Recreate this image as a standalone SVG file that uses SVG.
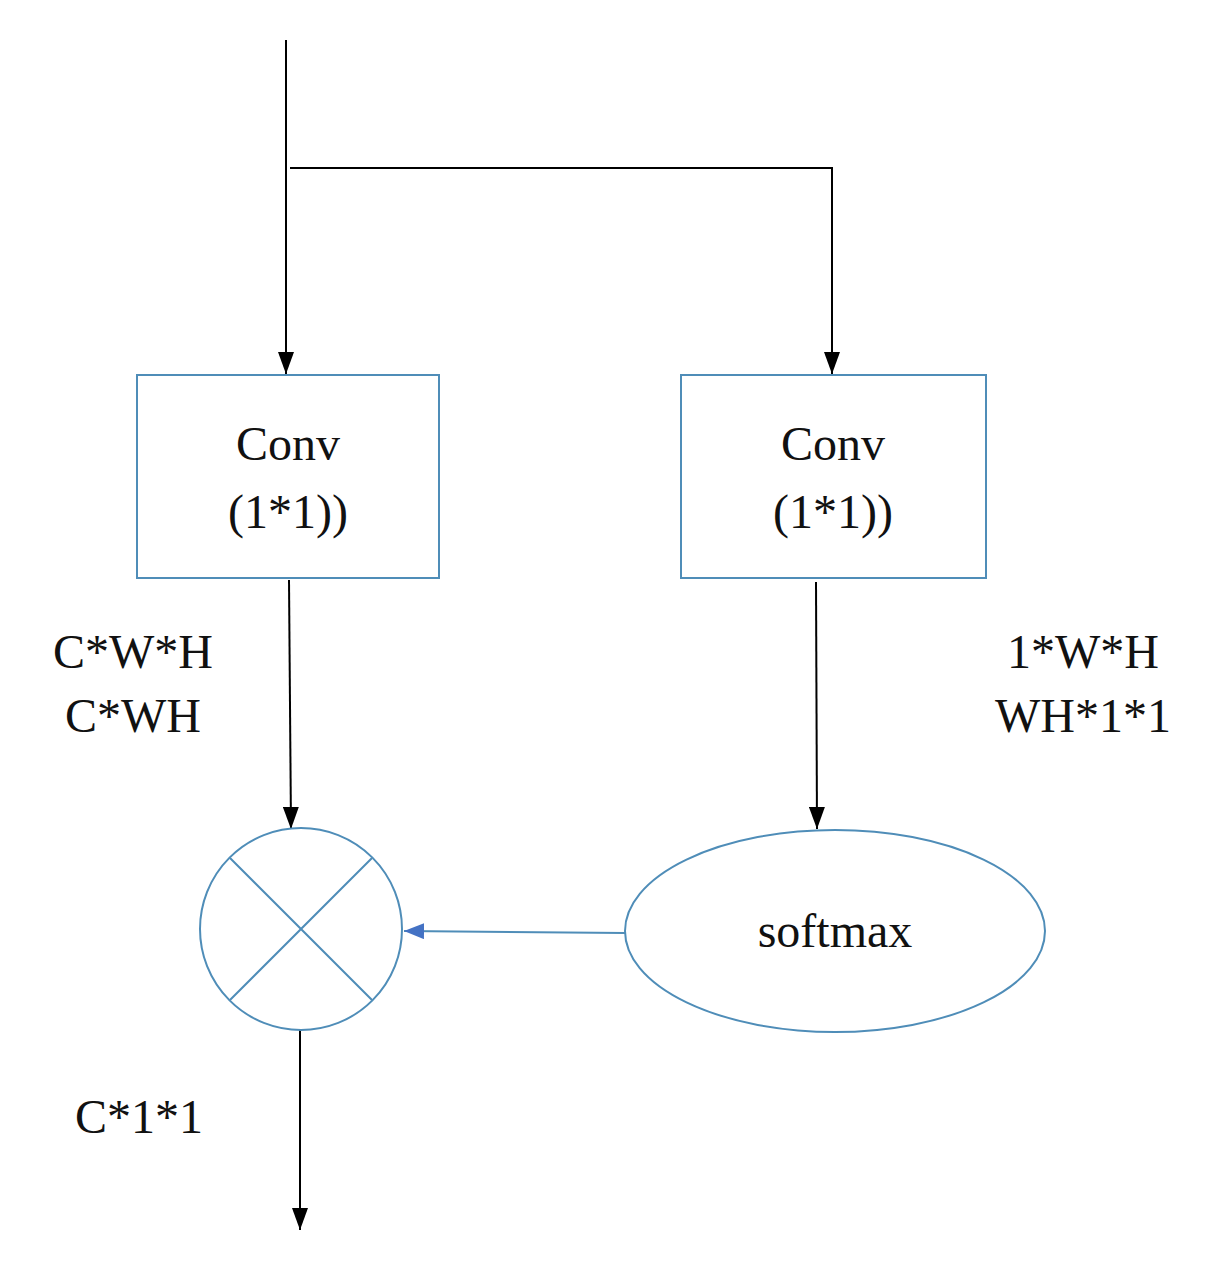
<svg xmlns="http://www.w3.org/2000/svg" width="1214" height="1266" viewBox="0 0 1214 1266">
<style>
text{font-family:"Liberation Serif",serif;font-size:48px;fill:#111;text-anchor:middle}
.n{fill:#fff;stroke:#4f8db8;stroke-width:2}
.c{stroke:#000;stroke-width:2;fill:none}
</style>
<defs>
<marker id="a" markerWidth="22" markerHeight="16" refX="22" refY="8" orient="auto" markerUnits="userSpaceOnUse" viewBox="0 0 22 16"><path d="M0,0L22,8L0,16z" fill="#000"/></marker>
<marker id="b" markerWidth="20" markerHeight="16" refX="20" refY="8" orient="auto" markerUnits="userSpaceOnUse" viewBox="0 0 20 16"><path d="M0,0L20,8L0,16z" fill="#4472c4"/></marker>
</defs>
<rect width="1214" height="1266" fill="#fff"/>
<g id="connectors">
<path class="c" d="M286,40V374" marker-end="url(#a)"/>
<path class="c" d="M290,168H832V374" marker-end="url(#a)"/>
<path class="c" d="M289,580L291,829" marker-end="url(#a)"/>
<path class="c" d="M816,582L817,829" marker-end="url(#a)"/>
<path class="c" d="M300,1030V1230" marker-end="url(#a)"/>
<path d="M625,933L404,931" stroke="#4f8db8" stroke-width="2" fill="none" marker-end="url(#b)"/>
</g>
<g id="conv1"><rect class="n" x="137" y="375" width="302" height="203"/><text x="288" y="460">Conv</text><text x="288" y="528">(1*1))</text></g>
<g id="conv2"><rect class="n" x="681" y="375" width="305" height="203"/><text x="833" y="460">Conv</text><text x="833" y="528">(1*1))</text></g>
<g id="mul"><circle class="n" cx="301" cy="929" r="101"/><path d="M230,858L372,1000M372,858L230,1000" stroke="#4f8db8" stroke-width="2"/></g>
<g id="softmax"><ellipse class="n" cx="835" cy="931" rx="210" ry="101"/><text x="835" y="947">softmax</text></g>
<g id="labels">
<text x="133" y="668">C*W*H</text><text x="133" y="732">C*WH</text>
<text x="1083" y="668">1*W*H</text><text x="1083" y="732">WH*1*1</text>
<text x="139" y="1133">C*1*1</text>
</g>
</svg>
